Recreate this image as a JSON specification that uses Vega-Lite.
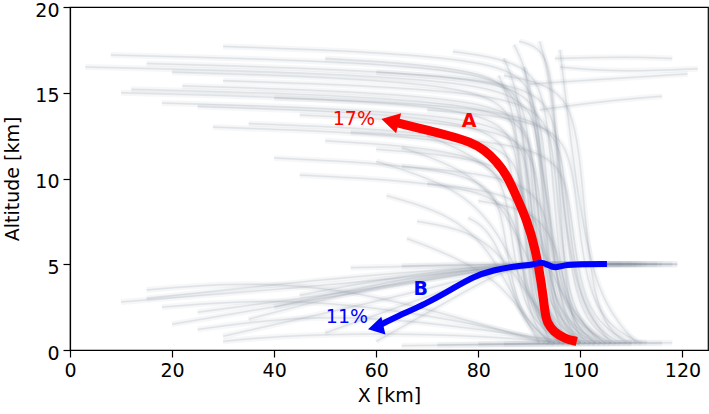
{
  "$schema": "https://vega.github.io/schema/vega-lite/v6.json",
  "width": 638,
  "height": 343,
  "autosize": {"type": "none"},
  "padding": {"left": 70, "top": 7, "right": 1, "bottom": 64},
  "background": "white",
  "config": {
    "font": "DejaVu Sans",
    "view": {"stroke": "black", "strokeWidth": 1.2},
    "axis": {
      "labelFont": "DejaVu Sans", "titleFont": "DejaVu Sans",
      "labelFontSize": 19, "titleFontSize": 19, "titleFontWeight": "normal",
      "labelColor": "black", "titleColor": "black",
      "tickColor": "black", "domainColor": "black",
      "tickSize": 7, "tickWidth": 1.2, "domainWidth": 1.2,
      "grid": false, "labelFlush": false, "labelOverlap": false, "labelPadding": 4
    },
    "axisX": {"titlePadding": 6},
    "axisY": {"titlePadding": 12, "labelOffset": 3}
  },
  "datasets": {
    "bg": [
      {"g":"a1","o":1,"x":98,"y":0.4},{"g":"a1","o":2,"x":92,"y":2},{"g":"a1","o":3,"x":90,"y":14},{"g":"a1","o":4,"x":86,"y":16.6},{"g":"a1","o":5,"x":8,"y":17.2},
      {"g":"a2","o":1,"x":102,"y":0.4},{"g":"a2","o":2,"x":95,"y":2},{"g":"a2","o":3,"x":93,"y":13.5},{"g":"a2","o":4,"x":89,"y":16.1},{"g":"a2","o":5,"x":15,"y":16.7},
      {"g":"a3","o":1,"x":96,"y":0.4},{"g":"a3","o":2,"x":90,"y":2},{"g":"a3","o":3,"x":88,"y":13},{"g":"a3","o":4,"x":84,"y":15.6},{"g":"a3","o":5,"x":20,"y":16.2},
      {"g":"a4","o":1,"x":105,"y":0.4},{"g":"a4","o":2,"x":97,"y":2},{"g":"a4","o":3,"x":95,"y":12.5},{"g":"a4","o":4,"x":91,"y":15.1},{"g":"a4","o":5,"x":30,"y":15.7},
      {"g":"a5","o":1,"x":100,"y":0.4},{"g":"a5","o":2,"x":93,"y":2},{"g":"a5","o":3,"x":91,"y":12},{"g":"a5","o":4,"x":87,"y":14.6},{"g":"a5","o":5,"x":12,"y":15.2},
      {"g":"a6","o":1,"x":108,"y":0.4},{"g":"a6","o":2,"x":99,"y":2},{"g":"a6","o":3,"x":97,"y":11.5},{"g":"a6","o":4,"x":93,"y":14.1},{"g":"a6","o":5,"x":40,"y":14.7},
      {"g":"a7","o":1,"x":94,"y":0.4},{"g":"a7","o":2,"x":89,"y":2},{"g":"a7","o":3,"x":87,"y":11},{"g":"a7","o":4,"x":83,"y":13.6},{"g":"a7","o":5,"x":25,"y":14.2},
      {"g":"a8","o":1,"x":103,"y":0.4},{"g":"a8","o":2,"x":94,"y":2},{"g":"a8","o":3,"x":92,"y":10.5},{"g":"a8","o":4,"x":88,"y":13.1},{"g":"a8","o":5,"x":45,"y":13.7},
      {"g":"a9","o":1,"x":99,"y":0.4},{"g":"a9","o":2,"x":91,"y":2},{"g":"a9","o":3,"x":89,"y":10},{"g":"a9","o":4,"x":85,"y":12.6},{"g":"a9","o":5,"x":35,"y":13.2},
      {"g":"a10","o":1,"x":110,"y":0.4},{"g":"a10","o":2,"x":100,"y":2},{"g":"a10","o":3,"x":98,"y":9.5},{"g":"a10","o":4,"x":94,"y":12.1},{"g":"a10","o":5,"x":55,"y":12.7},
      {"g":"a11","o":1,"x":97,"y":0.4},{"g":"a11","o":2,"x":88,"y":2},{"g":"a11","o":3,"x":86,"y":9},{"g":"a11","o":4,"x":82,"y":11.6},{"g":"a11","o":5,"x":50,"y":12.2},
      {"g":"a12","o":1,"x":101,"y":0.4},{"g":"a12","o":2,"x":92,"y":2},{"g":"a12","o":3,"x":90,"y":8.5},{"g":"a12","o":4,"x":86,"y":11.1},{"g":"a12","o":5,"x":60,"y":11.7},
      {"g":"a13","o":1,"x":95,"y":0.4},{"g":"a13","o":2,"x":87,"y":2},{"g":"a13","o":3,"x":85,"y":8},{"g":"a13","o":4,"x":81,"y":10.6},{"g":"a13","o":5,"x":40,"y":11.2},
      {"g":"a14","o":1,"x":106,"y":0.4},{"g":"a14","o":2,"x":96,"y":2},{"g":"a14","o":3,"x":94,"y":7.5},{"g":"a14","o":4,"x":90,"y":10.1},{"g":"a14","o":5,"x":65,"y":10.7},
      {"g":"a15","o":1,"x":98,"y":0.4},{"g":"a15","o":2,"x":90,"y":2},{"g":"a15","o":3,"x":88,"y":7},{"g":"a15","o":4,"x":84,"y":9.6},{"g":"a15","o":5,"x":45,"y":10.2},
      {"g":"a16","o":1,"x":104,"y":0.4},{"g":"a16","o":2,"x":95,"y":2},{"g":"a16","o":3,"x":93,"y":6.5},{"g":"a16","o":4,"x":89,"y":9.1},{"g":"a16","o":5,"x":70,"y":9.7},
      {"g":"a17","o":1,"x":100,"y":0.4},{"g":"a17","o":2,"x":94,"y":2},{"g":"a17","o":3,"x":92,"y":14.5},{"g":"a17","o":4,"x":88,"y":17.1},{"g":"a17","o":5,"x":30,"y":17.7},
      {"g":"a18","o":1,"x":96,"y":0.4},{"g":"a18","o":2,"x":91,"y":2},{"g":"a18","o":3,"x":89,"y":13.8},{"g":"a18","o":4,"x":85,"y":16.4},{"g":"a18","o":5,"x":50,"y":17},
      {"g":"a19","o":1,"x":107,"y":0.4},{"g":"a19","o":2,"x":98,"y":2},{"g":"a19","o":3,"x":96,"y":13},{"g":"a19","o":4,"x":92,"y":15.6},{"g":"a19","o":5,"x":60,"y":16.2},
      {"g":"a20","o":1,"x":102,"y":0.4},{"g":"a20","o":2,"x":93,"y":2},{"g":"a20","o":3,"x":91,"y":12.2},{"g":"a20","o":4,"x":87,"y":14.8},{"g":"a20","o":5,"x":22,"y":15.4},
      {"g":"a21","o":1,"x":99,"y":0.4},{"g":"a21","o":2,"x":92,"y":2},{"g":"a21","o":3,"x":90,"y":11.2},{"g":"a21","o":4,"x":86,"y":13.8},{"g":"a21","o":5,"x":18,"y":14.4},
      {"g":"a22","o":1,"x":112,"y":0.4},{"g":"a22","o":2,"x":101,"y":2},{"g":"a22","o":3,"x":99,"y":10.8},{"g":"a22","o":4,"x":95,"y":13.4},{"g":"a22","o":5,"x":70,"y":14},
      {"g":"a23","o":1,"x":97,"y":0.4},{"g":"a23","o":2,"x":89,"y":2},{"g":"a23","o":3,"x":87,"y":9.8},{"g":"a23","o":4,"x":83,"y":12.4},{"g":"a23","o":5,"x":28,"y":13},
      {"g":"a24","o":1,"x":103,"y":0.4},{"g":"a24","o":2,"x":96,"y":2},{"g":"a24","o":3,"x":94,"y":14.2},{"g":"a24","o":4,"x":90,"y":16.8},{"g":"a24","o":5,"x":75,"y":17.4},
      {"g":"a25","o":1,"x":101,"y":0.4},{"g":"a25","o":2,"x":97,"y":2},{"g":"a25","o":3,"x":95,"y":15},{"g":"a25","o":4,"x":93,"y":17.6},{"g":"a25","o":5,"x":88,"y":18},
      {"g":"a26","o":1,"x":98,"y":0.4},{"g":"a26","o":2,"x":94,"y":2},{"g":"a26","o":3,"x":92,"y":13.3},{"g":"a26","o":4,"x":88,"y":15.9},{"g":"a26","o":5,"x":3,"y":16.5},
      {"g":"a27","o":1,"x":105,"y":0.4},{"g":"a27","o":2,"x":98,"y":2},{"g":"a27","o":3,"x":96,"y":5.5},{"g":"a27","o":4,"x":92,"y":8.1},{"g":"a27","o":5,"x":80,"y":8.7},
      {"g":"a28","o":1,"x":93,"y":0.4},{"g":"a28","o":2,"x":88,"y":2},{"g":"a28","o":3,"x":86,"y":4.5},{"g":"a28","o":4,"x":82,"y":7.1},{"g":"a28","o":5,"x":78,"y":7.7},
      {"g":"a29","o":1,"x":109,"y":0.4},{"g":"a29","o":2,"x":102,"y":2},{"g":"a29","o":3,"x":100,"y":12.8},{"g":"a29","o":4,"x":96,"y":15.4},{"g":"a29","o":5,"x":85,"y":16},
      {"g":"a30","o":1,"x":95,"y":0.4},{"g":"a30","o":2,"x":90,"y":2},{"g":"a30","o":3,"x":88,"y":11.8},{"g":"a30","o":4,"x":84,"y":14.4},{"g":"a30","o":5,"x":10,"y":15},
      {"g":"a31","o":1,"x":100,"y":0.4},{"g":"a31","o":2,"x":96,"y":2},{"g":"a31","o":3,"x":93,"y":10},{"g":"a31","o":4,"x":90,"y":16},{"g":"a31","o":5,"x":87,"y":17.8},
      {"g":"a32","o":1,"x":106,"y":0.4},{"g":"a32","o":2,"x":99,"y":3},{"g":"a32","o":3,"x":96,"y":10},{"g":"a32","o":4,"x":94,"y":16},{"g":"a32","o":5,"x":92,"y":18},
      {"g":"a33","o":1,"x":97,"y":0.4},{"g":"a33","o":2,"x":93,"y":2},{"g":"a33","o":3,"x":90,"y":9},{"g":"a33","o":4,"x":88,"y":15},{"g":"a33","o":5,"x":85,"y":17},
      {"g":"a34","o":1,"x":111,"y":0.4},{"g":"a34","o":2,"x":103,"y":3},{"g":"a34","o":3,"x":99,"y":10},{"g":"a34","o":4,"x":97,"y":15},{"g":"a34","o":5,"x":96,"y":17.5},
      {"g":"a35","o":1,"x":103,"y":0.4},{"g":"a35","o":2,"x":97,"y":2},{"g":"a35","o":3,"x":94,"y":8},{"g":"a35","o":4,"x":91,"y":13},{"g":"a35","o":5,"x":89,"y":16.5},
      {"g":"a36","o":1,"x":94,"y":0.4},{"g":"a36","o":2,"x":91,"y":3},{"g":"a36","o":3,"x":89,"y":9},{"g":"a36","o":4,"x":87,"y":14},{"g":"a36","o":5,"x":84,"y":16},
      {"g":"b1","o":1,"x":119,"y":5},{"g":"b1","o":2,"x":92,"y":5.02},{"g":"b1","o":3,"x":85,"y":4.9},{"g":"b1","o":4,"x":60,"y":4},{"g":"b1","o":5,"x":10,"y":2.8},
      {"g":"b2","o":1,"x":115,"y":5},{"g":"b2","o":2,"x":92,"y":5},{"g":"b2","o":3,"x":85,"y":4.85},{"g":"b2","o":4,"x":65,"y":3.8},{"g":"b2","o":5,"x":20,"y":1.5},
      {"g":"b3","o":1,"x":112,"y":5},{"g":"b3","o":2,"x":92,"y":5.02},{"g":"b3","o":3,"x":85,"y":4.8},{"g":"b3","o":4,"x":70,"y":3.5},{"g":"b3","o":5,"x":30,"y":0.8},
      {"g":"b4","o":1,"x":110,"y":5},{"g":"b4","o":2,"x":92,"y":5},{"g":"b4","o":3,"x":85,"y":4.9},{"g":"b4","o":4,"x":65,"y":4.2},{"g":"b4","o":5,"x":40,"y":2.5},
      {"g":"b5","o":1,"x":108,"y":5},{"g":"b5","o":2,"x":92,"y":5.02},{"g":"b5","o":3,"x":85,"y":4.95},{"g":"b5","o":4,"x":55,"y":4.3},{"g":"b5","o":5,"x":15,"y":3},
      {"g":"b6","o":1,"x":118,"y":5},{"g":"b6","o":2,"x":92,"y":5},{"g":"b6","o":3,"x":85,"y":4.8},{"g":"b6","o":4,"x":72,"y":3.3},{"g":"b6","o":5,"x":50,"y":1},
      {"g":"b7","o":1,"x":105,"y":5},{"g":"b7","o":2,"x":92,"y":5.02},{"g":"b7","o":3,"x":85,"y":4.85},{"g":"b7","o":4,"x":60,"y":3.6},{"g":"b7","o":5,"x":25,"y":2.2},
      {"g":"b8","o":1,"x":113,"y":5},{"g":"b8","o":2,"x":92,"y":5},{"g":"b8","o":3,"x":85,"y":4.7},{"g":"b8","o":4,"x":75,"y":3},{"g":"b8","o":5,"x":60,"y":0.5},
      {"g":"b9","o":1,"x":116,"y":5},{"g":"b9","o":2,"x":92,"y":5.02},{"g":"b9","o":3,"x":85,"y":4.9},{"g":"b9","o":4,"x":62,"y":3.9},{"g":"b9","o":5,"x":35,"y":1.8},
      {"g":"b10","o":1,"x":104,"y":5},{"g":"b10","o":2,"x":92,"y":5},{"g":"b10","o":3,"x":85,"y":4.95},{"g":"b10","o":4,"x":68,"y":4.5},{"g":"b10","o":5,"x":45,"y":3.2},
      {"g":"b11","o":1,"x":119,"y":5},{"g":"b11","o":2,"x":100,"y":5.02},{"g":"b11","o":3,"x":90,"y":5},{"g":"b11","o":4,"x":80,"y":5},{"g":"b11","o":5,"x":65,"y":4.9},
      {"g":"b12","o":1,"x":111,"y":5},{"g":"b12","o":2,"x":100,"y":5},{"g":"b12","o":3,"x":90,"y":5.02},{"g":"b12","o":4,"x":80,"y":4.95},{"g":"b12","o":5,"x":55,"y":4.8},
      {"g":"c1","o":1,"x":116,"y":0.4},{"g":"c1","o":2,"x":100,"y":0.38},{"g":"c1","o":3,"x":85,"y":0.35},{"g":"c1","o":4,"x":72,"y":0.3},
      {"g":"c2","o":1,"x":113,"y":0.45},{"g":"c2","o":2,"x":100,"y":0.4},{"g":"c2","o":3,"x":90,"y":0.38},{"g":"c2","o":4,"x":80,"y":0.35},
      {"g":"c3","o":1,"x":110,"y":0.4},{"g":"c3","o":2,"x":95,"y":0.35},{"g":"c3","o":3,"x":80,"y":0.3},{"g":"c3","o":4,"x":65,"y":0.25},
      {"g":"c4","o":1,"x":118,"y":0.42},{"g":"c4","o":2,"x":105,"y":0.4},{"g":"c4","o":3,"x":95,"y":0.38},{"g":"c4","o":4,"x":85,"y":0.35},
      {"g":"d1","o":1,"x":96,"y":0.4},{"g":"d1","o":2,"x":90,"y":3},{"g":"d1","o":3,"x":84,"y":7},{"g":"d1","o":4,"x":76,"y":9.5},{"g":"d1","o":5,"x":60,"y":11},
      {"g":"d2","o":1,"x":100,"y":0.4},{"g":"d2","o":2,"x":93,"y":3},{"g":"d2","o":3,"x":86,"y":8},{"g":"d2","o":4,"x":78,"y":10.5},{"g":"d2","o":5,"x":65,"y":11.8},
      {"g":"d3","o":1,"x":92,"y":0.4},{"g":"d3","o":2,"x":87,"y":3},{"g":"d3","o":3,"x":82,"y":6},{"g":"d3","o":4,"x":74,"y":8},{"g":"d3","o":5,"x":62,"y":9},
      {"g":"d4","o":1,"x":98,"y":0.4},{"g":"d4","o":2,"x":91,"y":2.5},{"g":"d4","o":3,"x":85,"y":5.5},{"g":"d4","o":4,"x":78,"y":7},{"g":"d4","o":5,"x":68,"y":7.5},
      {"g":"d5","o":1,"x":104,"y":0.4},{"g":"d5","o":2,"x":96,"y":3},{"g":"d5","o":3,"x":90,"y":8},{"g":"d5","o":4,"x":82,"y":11},{"g":"d5","o":5,"x":70,"y":12.5},
      {"g":"d6","o":1,"x":94,"y":0.4},{"g":"d6","o":2,"x":89,"y":2},{"g":"d6","o":3,"x":84,"y":4},{"g":"d6","o":4,"x":75,"y":5.5},{"g":"d6","o":5,"x":66,"y":6.5},
      {"g":"e1","o":1,"x":95,"y":0.4},{"g":"e1","o":2,"x":80,"y":1.5},{"g":"e1","o":3,"x":60,"y":2.5},{"g":"e1","o":4,"x":40,"y":3},{"g":"e1","o":5,"x":18,"y":2.5},
      {"g":"e2","o":1,"x":100,"y":0.4},{"g":"e2","o":2,"x":85,"y":1},{"g":"e2","o":3,"x":65,"y":1.8},{"g":"e2","o":4,"x":45,"y":2},{"g":"e2","o":5,"x":25,"y":1.2},
      {"g":"e3","o":1,"x":92,"y":0.5},{"g":"e3","o":2,"x":75,"y":2},{"g":"e3","o":3,"x":55,"y":3.5},{"g":"e3","o":4,"x":35,"y":4},{"g":"e3","o":5,"x":15,"y":3.5},
      {"g":"e4","o":1,"x":98,"y":0.4},{"g":"e4","o":2,"x":82,"y":0.8},{"g":"e4","o":3,"x":60,"y":1},{"g":"e4","o":4,"x":40,"y":0.8},{"g":"e4","o":5,"x":30,"y":0.5},
      {"g":"r1","o":1,"x":90,"y":15.5},{"g":"r1","o":2,"x":105,"y":15.8},{"g":"r1","o":3,"x":121,"y":16.1},
      {"g":"r2","o":1,"x":95,"y":17},{"g":"r2","o":2,"x":110,"y":17.1},{"g":"r2","o":3,"x":118,"y":17},
      {"g":"r3","o":1,"x":92,"y":14},{"g":"r3","o":2,"x":104,"y":14.5},{"g":"r3","o":3,"x":116,"y":14.8},
      {"g":"r4","o":1,"x":96,"y":16.5},{"g":"r4","o":2,"x":108,"y":16.2},{"g":"r4","o":3,"x":123,"y":16.4}
    ],
    "red": [
      {"o":1,"x":99.3,"y":0.5},{"o":2,"x":97,"y":0.65},{"o":3,"x":94.7,"y":1.07},{"o":4,"x":93.5,"y":1.6},
      {"o":5,"x":93.1,"y":2.04},{"o":6,"x":92.4,"y":3.89},{"o":7,"x":91.1,"y":6.0},{"o":8,"x":89.5,"y":7.58},
      {"o":9,"x":87.5,"y":8.94},{"o":10,"x":85.6,"y":10.2},{"o":11,"x":83.6,"y":10.98},{"o":12,"x":81.3,"y":11.66},
      {"o":13,"x":78.4,"y":12.15},{"o":14,"x":74.4,"y":12.48},{"o":15,"x":70.5,"y":12.79},{"o":16,"x":64.7,"y":13.2},
      {"o":17,"x":62.7,"y":13.35}
    ],
    "blue": [
      {"o":1,"x":105.2,"y":5.01},{"o":2,"x":99.9,"y":5.01},{"o":3,"x":96.7,"y":4.96},{"o":4,"x":95.0,"y":4.76},
      {"o":5,"x":93.7,"y":4.96},{"o":6,"x":92.4,"y":5.15},{"o":7,"x":90.8,"y":4.96},{"o":8,"x":87.5,"y":4.9},
      {"o":9,"x":82.9,"y":4.66},{"o":10,"x":79.0,"y":4.28},{"o":11,"x":75.1,"y":3.6},{"o":12,"x":69.9,"y":2.72},
      {"o":13,"x":63.3,"y":1.85},{"o":14,"x":59.9,"y":1.32}
    ],
    "headA": [{"x":62.7,"y":13.35}],
    "headB": [{"x":59.9,"y":1.32}],
    "pct": [{"t":"17%","x":59.75,"y":13.12,"c":"A"},{"t":"11%","x":58.4,"y":1.56,"c":"B"}],
    "letters": [{"t":"A","x":78.2,"y":12.98,"c":"A"},{"t":"B","x":68.7,"y":3.21,"c":"B"}]
  },
  "encoding": {
    "x": {"field": "x", "type": "quantitative", "scale": {"domain": [0, 125], "nice": false, "zero": false},
          "axis": {"title": "X [km]", "values": [0, 20, 40, 60, 80, 100, 120]}},
    "y": {"field": "y", "type": "quantitative", "scale": {"domain": [0, 20], "nice": false, "zero": false},
          "axis": {"title": "Altitude [km]", "values": [0, 5, 10, 15, 20]}}
  },
  "layer": [
    {
      "data": {"name": "bg"},
      "mark": {"type": "line", "color": "#8d98a4", "opacity": 0.08, "strokeWidth": 6, "interpolate": "basis", "clip": true},
      "encoding": {"detail": {"field": "g"}, "order": {"field": "o", "type": "quantitative"}}
    },
    {
      "data": {"name": "bg"},
      "mark": {"type": "line", "color": "#8d98a4", "opacity": 0.12, "strokeWidth": 2, "interpolate": "basis", "clip": true},
      "encoding": {"detail": {"field": "g"}, "order": {"field": "o", "type": "quantitative"}}
    },
    {
      "data": {"name": "bg"},
      "mark": {"type": "line", "color": "#8d98a4", "opacity": 0.2, "strokeWidth": 0.6, "interpolate": "basis", "clip": true},
      "encoding": {"detail": {"field": "g"}, "order": {"field": "o", "type": "quantitative"}}
    },
    {
      "data": {"name": "red"},
      "mark": {"type": "line", "color": "#ff0000", "strokeWidth": 9, "interpolate": "basis", "strokeCap": "butt", "strokeJoin": "round"},
      "encoding": {"order": {"field": "o", "type": "quantitative"}}
    },
    {
      "data": {"name": "headA"},
      "mark": {"type": "point", "shape": "triangle-left", "filled": true, "color": "#ff0000", "opacity": 1, "size": 420, "angle": 14}
    },
    {
      "data": {"name": "blue"},
      "mark": {"type": "line", "color": "#0000ff", "strokeWidth": 6, "interpolate": "basis", "strokeCap": "butt", "strokeJoin": "round"},
      "encoding": {"order": {"field": "o", "type": "quantitative"}}
    },
    {
      "data": {"name": "headB"},
      "mark": {"type": "point", "shape": "triangle-left", "filled": true, "color": "#0000ff", "opacity": 1, "size": 330, "angle": 347}
    },
    {
      "data": {"name": "pct"},
      "mark": {"type": "text", "align": "right", "baseline": "alphabetic", "fontSize": 19, "font": "DejaVu Sans"},
      "encoding": {"text": {"field": "t"}, "color": {"field": "c", "type": "nominal", "scale": {"domain": ["A", "B"], "range": ["#ff0000", "#0000ff"]}, "legend": null}}
    },
    {
      "data": {"name": "letters"},
      "mark": {"type": "text", "align": "center", "baseline": "alphabetic", "fontSize": 19, "fontWeight": "bold", "font": "DejaVu Sans"},
      "encoding": {"text": {"field": "t"}, "color": {"field": "c", "type": "nominal", "scale": {"domain": ["A", "B"], "range": ["#ff0000", "#0000ff"]}, "legend": null}}
    }
  ]
}
